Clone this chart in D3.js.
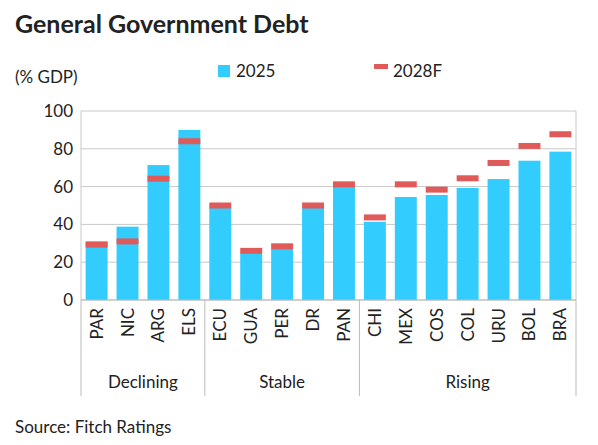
<!DOCTYPE html>
<html><head><meta charset="utf-8">
<script src="https://cdn.jsdelivr.net/npm/d3@7"></script>
<style>body{margin:0;background:#fff;font-family:Lato,"Open Sans",sans-serif}</style>
</head><body><svg id="c" width="598" height="445"></svg>
<script>
const countries = ["PAR","NIC","ARG","ELS","ECU","GUA","PER","DR","PAN","CHI","MEX","COS","COL","URU","BOL","BRA"];
const v2025 = [31,38.8,71.4,90,48.9,24.7,27,48.9,60,41.4,54.5,55.6,59.3,64,73.7,78.5];
const v2028 = [29.3,31,64.2,84,50,26,28.4,50,61.2,43.7,61.2,58.4,64.4,72.5,81.5,87.7];
const groups = [{name:"Declining",from:0,to:3},{name:"Stable",from:4,to:8},{name:"Rising",from:9,to:15}];
const yTicks = [0,20,40,60,80,100];

const svg = d3.select("#c");
const L = 81, R = 576, T = 111, B = 300;
const x = d3.scaleBand().domain(countries).range([L, R]).paddingInner(0.29).paddingOuter(0.15);
const y = d3.scaleLinear().domain([0,100]).range([B, T]);

svg.append("text").attr("x",15).attr("y",33).attr("font-size",25).attr("font-weight",700).attr("fill","#222").text("General Government Debt");
svg.append("text").attr("x",15).attr("y",83).attr("font-size",17).attr("fill","#222").text("(% GDP)");
svg.append("rect").attr("x",218).attr("y",65).attr("width",12).attr("height",12).attr("fill","#33ccff");
svg.append("text").attr("x",236).attr("y",77).attr("font-size",17).attr("fill","#222").text("2025");
svg.append("rect").attr("x",374).attr("y",64).attr("width",14).attr("height",5).attr("fill","#e05a5a");
svg.append("text").attr("x",393).attr("y",77).attr("font-size",17).attr("fill","#222").text("2028F");

svg.append("g").selectAll("line").data(yTicks).enter().append("line")
  .attr("x1",L).attr("x2",R).attr("y1",d=>y(d)).attr("y2",d=>y(d)).attr("stroke","#c8c8c8");
svg.append("line").attr("x1",L).attr("x2",L).attr("y1",T).attr("y2",B).attr("stroke","#c8c8c8");
svg.append("line").attr("x1",R).attr("x2",R).attr("y1",T).attr("y2",B).attr("stroke","#c8c8c8");

const yAxis = svg.append("g").attr("transform",`translate(${L},0)`).call(d3.axisLeft(y).tickValues(yTicks).tickSize(0).tickPadding(8));
yAxis.select(".domain").remove();
yAxis.selectAll("text").attr("font-size",17).attr("fill","#222").attr("font-family","Lato,sans-serif");

svg.append("g").selectAll("rect").data(countries).enter().append("rect")
  .attr("x",d=>x(d)).attr("width",x.bandwidth()).attr("y",(d,i)=>y(v2025[i])).attr("height",(d,i)=>B-y(v2025[i])).attr("fill","#33ccff");
svg.append("g").selectAll("rect").data(countries).enter().append("rect")
  .attr("x",d=>x(d)).attr("width",x.bandwidth()).attr("y",(d,i)=>y(v2028[i])-3).attr("height",6).attr("fill","#e05a5a");

svg.append("line").attr("x1",L).attr("x2",R).attr("y1",B).attr("y2",B).attr("stroke","#bbb");
svg.append("g").selectAll("text").data(countries).enter().append("text")
  .attr("transform",d=>`translate(${x(d)+x.bandwidth()/2+6},${B+8}) rotate(-90)`)
  .attr("text-anchor","end").attr("font-size",17).attr("fill","#222").text(d=>d);

const step = x.step();
const edges = [L].concat(groups.map(g => x(countries[g.to]) + x.bandwidth() + (step - x.bandwidth())/2));
edges[edges.length-1] = R;
svg.append("g").selectAll("line").data(edges).enter().append("line")
  .attr("x1",d=>d).attr("x2",d=>d).attr("y1",B).attr("y2",396).attr("stroke","#bbb");
svg.append("g").selectAll("text").data(groups).enter().append("text")
  .attr("x",(g,i)=>(edges[i]+edges[i+1])/2).attr("y",388).attr("text-anchor","middle")
  .attr("font-size",17).attr("fill","#222").text(g=>g.name);

svg.append("text").attr("x",15).attr("y",433).attr("font-size",17).attr("fill","#222").text("Source: Fitch Ratings");
</script></body></html>
